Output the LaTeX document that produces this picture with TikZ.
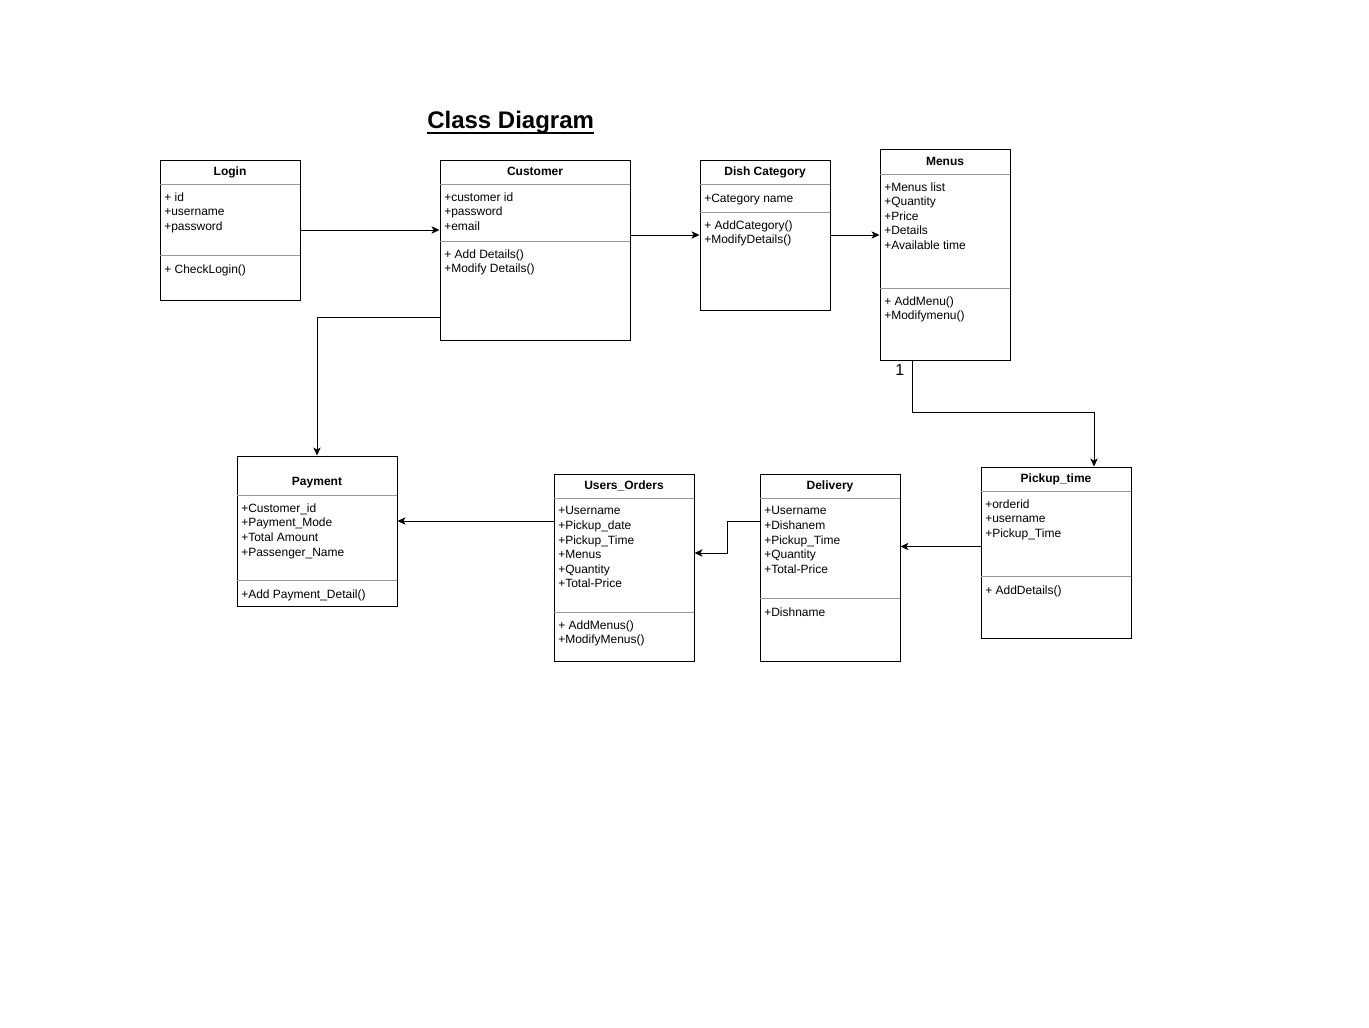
\documentclass[tikz,border=0pt]{standalone}
\usepackage{fontspec}
\setmainfont{Liberation Sans}
\usetikzlibrary{arrows.meta,positioning,fit,calc}

\begin{document}
\begin{tikzpicture}[x=0.75pt,y=-0.75pt,
    cls/.style={draw, line width=0.75pt, inner sep=0pt},
    sep/.style={draw=black!40, line width=0.75pt},
    ttl/.style={anchor=base, inner sep=0pt, font=\bfseries\fontsize{9}{10.9}\selectfont},
    txt/.style={anchor=north west, inner sep=0pt, yshift=-1pt, align=left, font=\fontsize{9}{10.9}\selectfont, execute at begin node=\strut},
    conn/.style={draw, line width=0.75pt, -{Stealth[length=6pt,width=5.5pt,inset=1.6pt]}}]
    \useasboundingbox[fill=white] (0,0) rectangle (1369,1027);

    \node[anchor=base west, inner sep=0pt, font=\bfseries\fontsize{18}{22}\selectfont] (title) at (427,128.5) {Class Diagram};
    \draw[line width=1.3pt] ([yshift=-3.4pt]title.base west) -- ([yshift=-3.4pt]title.base east);

    % Login
    \node[cls, fit={(160,160) (300,300)}] (login) {};
    \draw[sep] (160,184) -- (300,184) (160,255) -- (300,255);
    \node[ttl] (login-t) at (230,175.5) {Login};
    \node[txt] (login-a) at (164,191.1) {+ id\\+username\\+password};
    \node[txt] (login-o) at (164,262.1) {+ CheckLogin()};

    % Customer
    \node[cls, fit={(440,160) (630,340)}] (customer) {};
    \draw[sep] (440,184) -- (630,184) (440,241) -- (630,241);
    \node[ttl] (customer-t) at (535,175.5) {Customer};
    \node[txt] (customer-a) at (444,191.1) {+customer id\\+password\\+email};
    \node[txt] (customer-o) at (444,248.1) {+ Add Details()\\+Modify Details()};

    % Dish Category
    \node[cls, fit={(700,160) (830,310)}] (dish) {};
    \draw[sep] (700,184) -- (830,184) (700,212) -- (830,212);
    \node[ttl] (dish-t) at (765,175.5) {Dish Category};
    \node[txt] (dish-a) at (704,191.1) {+Category name};
    \node[txt] (dish-o) at (704,219.1) {+ AddCategory()\\+ModifyDetails()};

    % Menus
    \node[cls, fit={(880,150) (1010,360)}] (menus) {};
    \draw[sep] (880,174) -- (1010,174) (880,288) -- (1010,288);
    \node[ttl] (menus-t) at (945,165.5) {Menus};
    \node[txt] (menus-a) at (884,181.1) {+Menus list\\+Quantity\\+Price\\+Details\\+Available time};
    \node[txt] (menus-o) at (884,295.1) {+ AddMenu()\\+Modifymenu()};

    % Payment
    \node[cls, fit={(237,456) (397,606)}] (payment) {};
    \draw[sep] (237,495) -- (397,495) (237,580) -- (397,580);
    \node[ttl] (payment-t) at (317,485.3) {Payment};
    \node[txt] (payment-a) at (241,502.1) {+Customer\_id\\+Payment\_Mode\\+Total Amount\\+Passenger\_Name};
    \node[txt] (payment-o) at (241,587.1) {+Add Payment\_Detail()};

    % Users_Orders
    \node[cls, fit={(554,474) (694,661)}] (users) {};
    \draw[sep] (554,498) -- (694,498) (554,612) -- (694,612);
    \node[ttl] (users-t) at (624,489.3) {Users\_Orders};
    \node[txt] (users-a) at (558,505.1) {+Username\\+Pickup\_date\\+Pickup\_Time\\+Menus\\+Quantity\\+Total-Price};
    \node[txt] (users-o) at (558,619.1) {+ AddMenus()\\+ModifyMenus()};

    % Delivery
    \node[cls, fit={(760,474) (900,661)}] (delivery) {};
    \draw[sep] (760,498) -- (900,498) (760,598) -- (900,598);
    \node[ttl] (delivery-t) at (830,489.3) {Delivery};
    \node[txt] (delivery-a) at (764,505.1) {+Username\\+Dishanem\\+Pickup\_Time\\+Quantity\\+Total-Price};
    \node[txt] (delivery-o) at (764,605.1) {+Dishname};

    % Pickup_time
    \node[cls, fit={(981,467) (1131,638)}] (pickup) {};
    \draw[sep] (981,491) -- (1131,491) (981,576) -- (1131,576);
    \node[ttl] (pickup-t) at (1056,482.3) {Pickup\_time};
    \node[txt] (pickup-a) at (985,498.1) {+orderid\\+username\\+Pickup\_Time};
    \node[txt] (pickup-o) at (985,583.1) {+ AddDetails()};

    % connectors
    \draw[conn] (login.east) -- (login.east -| customer.west);
    \draw[conn] (customer.east |- dish.west) -- (dish.west);
    \draw[conn] (dish.east) -- (dish.east -| menus.west);
    \draw[conn] ([shift={(0,67)}]customer.west) -| (payment.north);
    \draw[conn] ([shift={(-33,0)}]menus.south)
        node[anchor=north east, inner sep=0pt, xshift=-5.5pt, yshift=-2.5pt, font=\fontsize{12}{14}\selectfont] (one) {1}
        |- ([shift={(38,-54)}]pickup.north) -- ([shift={(38,0)}]pickup.north);
    \draw[conn] ([shift={(0,-6)}]pickup.west) coordinate (pd) -- (pd -| delivery.east);
    \draw[conn] ([shift={(0,-46.5)}]delivery.west) -- ++(-32,0) |- ([shift={(0,-14.5)}]users.east);
    \draw[conn] ([shift={(0,-46.5)}]users.west) coordinate (up) -- (up -| payment.east);
\end{tikzpicture}
\end{document}
